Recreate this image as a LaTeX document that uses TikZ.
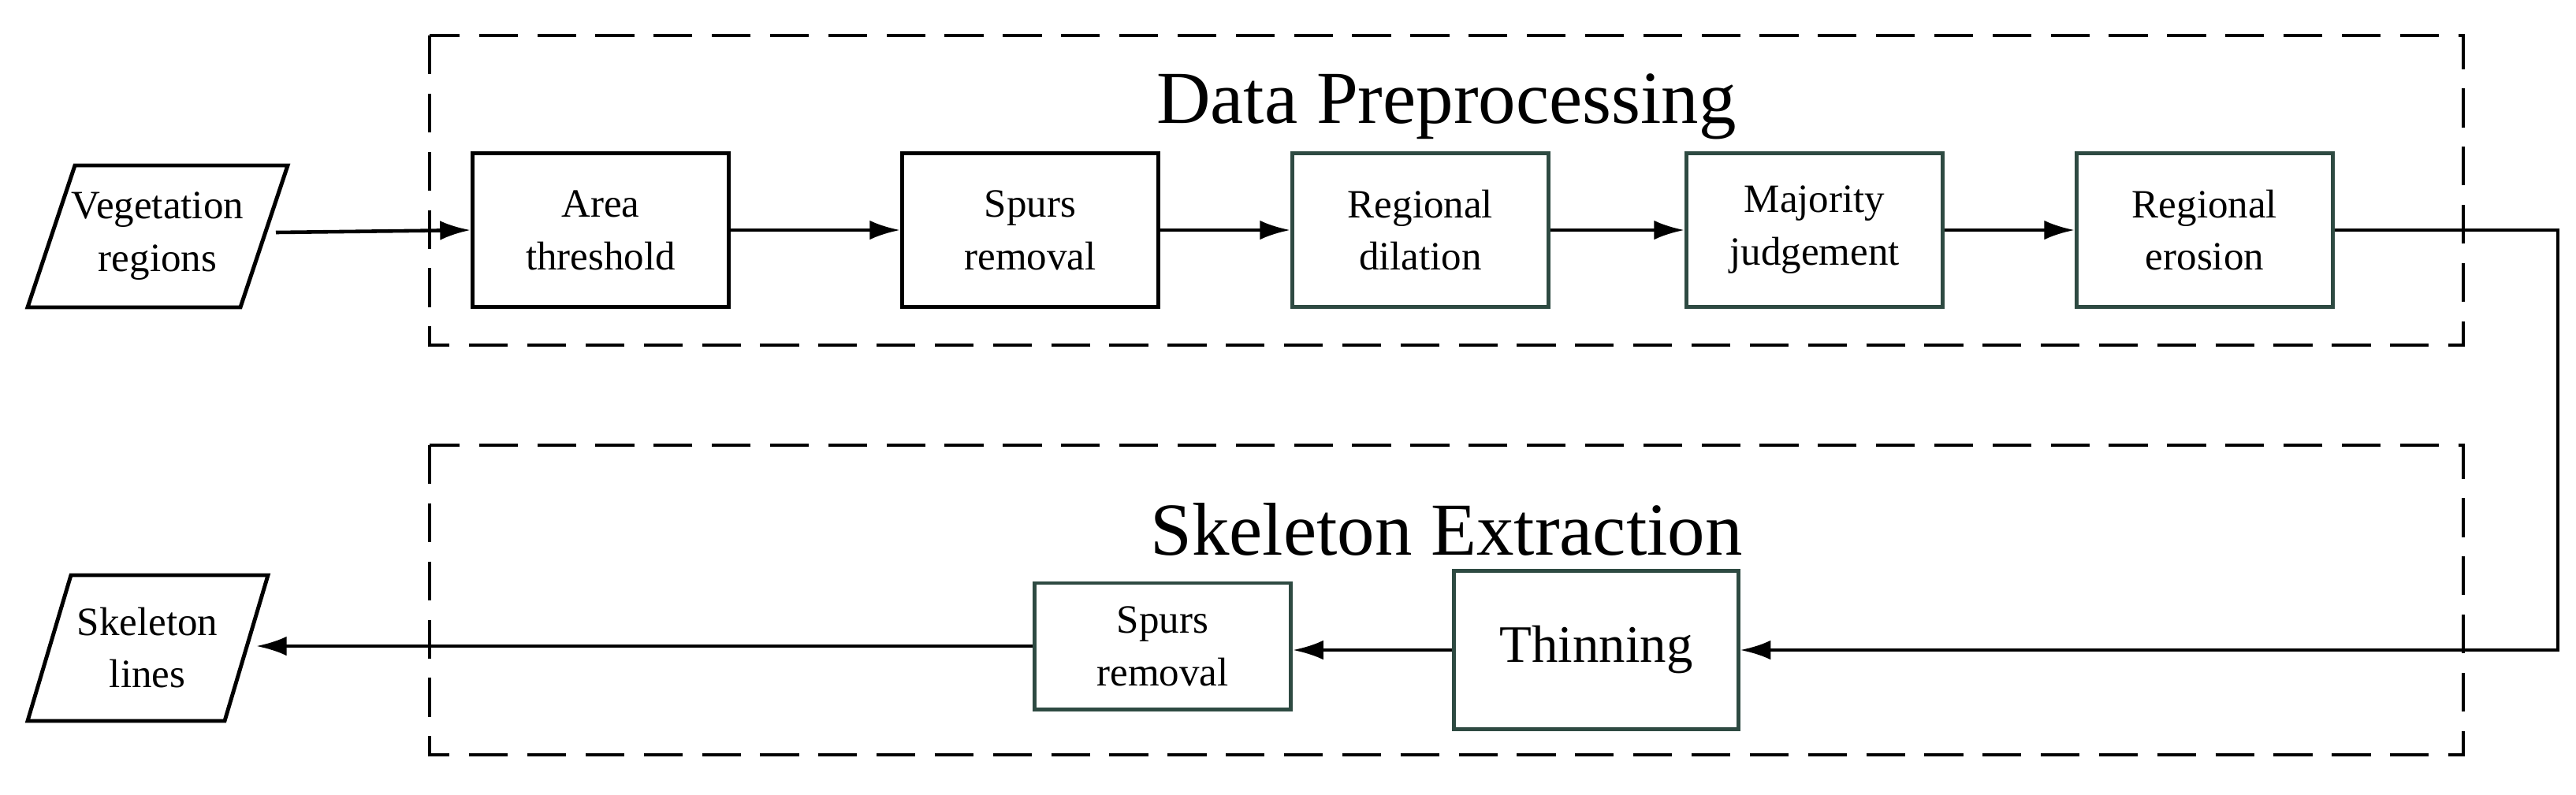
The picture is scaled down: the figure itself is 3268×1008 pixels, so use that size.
\documentclass[tikz,border=0pt]{standalone}
\usepackage{fontspec}
\setmainfont{Liberation Serif}
\usetikzlibrary{arrows.meta}
\definecolor{gb}{HTML}{2E4A42}
\begin{document}
\begin{tikzpicture}[x=0.01cm,y=-0.01cm,
  box/.style={draw,line width=1.4pt,minimum width=3.25cm,minimum height=1.95cm,align=center,font=\fontsize{14.5}{19}\selectfont},
  gbox/.style={box,draw=gb},
  dbox/.style={draw,line width=1.3pt,dash pattern=on 14pt off 7pt},
  arr/.style={-{Latex[length=11pt,width=7pt]},line width=1.3pt},
  title/.style={font=\fontsize{27}{32}\selectfont}]
\useasboundingbox (0,0) rectangle (3268,1008);
\draw[dbox] (545,45) rectangle (3125,438);
\draw[dbox] (545,565) rectangle (3125,958);
\node[title] (t1) at (1835,135) {Data Preprocessing};
\node[title] (t2) at (1835,672) {Skeleton Extraction};
\draw[line width=1.4pt] (95,210) -- (365,210) -- (305,390) -- (35,390) -- cycle;
\node[align=center,font=\fontsize{14.5}{19}\selectfont] (veg) at (200,300) {Vegetation\\regions};
\draw[line width=1.4pt] (90,730) -- (340,730) -- (285,915) -- (35,915) -- cycle;
\node[align=center,font=\fontsize{14.5}{19}\selectfont] (sk) at (187,822) {Skeleton\\lines};
\coordinate (vegR) at (350,295);
\coordinate (skR) at (325,820);
\node[box] (a) at (762,292) {Area\\threshold};
\node[box] (b) at (1307,292) {Spurs\\removal};
\node[gbox] (c) at (1802,292) {Regional\\dilation};
\node[gbox] (d) at (2302,292) {Majority\\judgement};
\node[gbox] (e) at (2797,292) {Regional\\erosion};
\node[gbox,minimum width=3.6cm,minimum height=2cm,font=\fontsize{19}{23}\selectfont] (th) at (2025,825) {Thinning};
\node[gbox,minimum height=1.6cm] (sp) at (1475,820) {Spurs\\removal};
\coordinate (corner1) at (3245,292);
\coordinate (corner2) at (3245,825);
\draw[arr] (vegR) -- (a.west);
\draw[arr] (a) -- (b);
\draw[arr] (b) -- (c);
\draw[arr] (c) -- (d);
\draw[arr] (d) -- (e);
\draw[arr] (e.east) -- (corner1) -- (corner2) -- (th.east);
\draw[arr] (th.west) -- (sp.east|-th.west);
\draw[arr] (sp.west) -- (skR);
\end{tikzpicture}
\end{document}
